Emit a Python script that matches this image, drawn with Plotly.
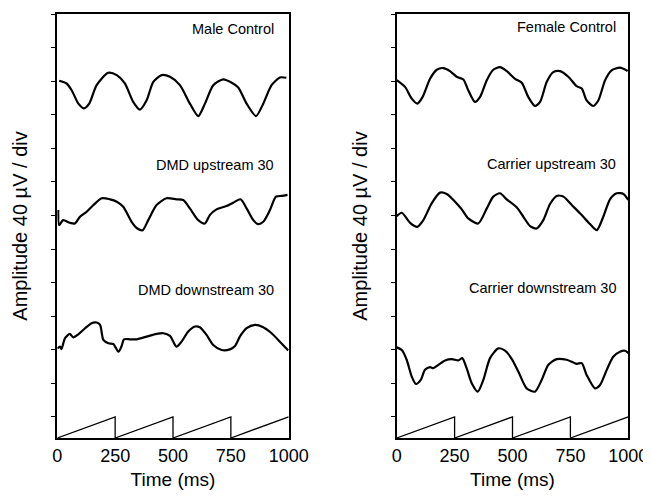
import plotly.graph_objects as go

# Zeit (ms) und Amplitude (in Skalenteilen, 1 div = 40 µV)
male_t = [8, 40, 62, 91, 115, 138, 170, 220, 257, 292, 328, 357, 386, 415, 451,
          487, 530, 573, 609, 638, 674, 717, 754, 782, 818, 859, 890, 926, 962, 990]
male_y = [10.01, 9.93, 9.73, 9.33, 9.19, 9.33, 9.88, 10.25, 10.18, 9.93, 9.38, 9.15, 9.43, 9.98, 10.18,
          10.13, 9.88, 9.33, 8.96, 9.33, 9.88, 10.05, 9.95, 9.81, 9.33, 8.96, 9.33, 9.88, 10.11, 10.10]

dmd_up_t = [4, 8, 25, 54, 76, 98, 127, 156, 192, 228, 257, 285, 321, 346, 369, 393, 429, 472,
            515, 544, 573, 609, 638, 659, 688, 731, 760, 792, 818, 847, 868, 890, 919, 945, 970, 995]
dmd_up_y = [6.16, 5.71, 5.86, 5.78, 5.76, 5.96, 6.11, 6.31, 6.51, 6.48, 6.41, 6.26, 5.81, 5.61, 5.56, 5.86, 6.31, 6.51,
            6.48, 6.46, 6.21, 5.86, 5.76, 6.01, 6.18, 6.28, 6.38, 6.48, 6.21, 5.86, 5.74, 5.81, 6.16, 6.56, 6.58, 6.61]

dmd_down_t = [0, 12, 18, 33, 54, 69, 91, 120, 148, 170, 185, 199, 221, 242, 264, 278, 288, 314, 343, 386,
              429, 458, 487, 515, 537, 566, 595, 616, 645, 674, 710, 746, 768, 789, 818, 854, 890, 926, 962, 998]
dmd_down_y = [2.04, 2.09, 2.02, 2.34, 2.47, 2.37, 2.46, 2.64, 2.79, 2.81, 2.74, 2.29, 2.19, 2.17, 1.94, 2.11, 2.31, 2.31, 2.31, 2.39,
              2.47, 2.49, 2.41, 2.09, 2.24, 2.54, 2.69, 2.67, 2.44, 2.14, 1.99, 2.01, 2.11, 2.39, 2.64, 2.74, 2.67, 2.49, 2.24, 1.98]

female_t = [0, 36, 65, 89, 112, 144, 173, 201, 230, 259, 288, 309, 338, 360, 389, 417, 446, 475,
            511, 540, 568, 597, 619, 648, 676, 705, 741, 777, 799, 820, 849, 871, 900, 928, 964, 997]
female_y = [10.03, 9.83, 9.48, 9.33, 9.53, 10.07, 10.34, 10.39, 10.30, 10.13, 10.05, 9.73, 9.38, 9.53, 10.03, 10.34, 10.42, 10.30,
            10.07, 9.95, 9.53, 9.26, 9.38, 9.98, 10.27, 10.30, 10.13, 9.85, 9.78, 9.43, 9.26, 9.43, 10.03, 10.32, 10.40, 10.30]

car_up_t = [0, 22, 58, 89, 115, 151, 187, 216, 252, 281, 309, 352, 389, 417, 446, 475, 518,
            547, 576, 604, 633, 662, 691, 720, 756, 799, 835, 864, 892, 921, 950, 979, 1000]
car_up_y = [5.98, 6.08, 5.78, 5.66, 5.86, 6.36, 6.68, 6.64, 6.41, 6.18, 5.91, 5.76, 6.21, 6.56, 6.66, 6.48, 6.24,
            5.96, 5.68, 5.61, 5.86, 6.34, 6.58, 6.56, 6.31, 6.01, 5.74, 5.56, 5.96, 6.48, 6.66, 6.64, 6.46]

car_down_t = [0, 22, 43, 65, 83, 104, 122, 144, 158, 180, 209, 238, 266, 283, 302, 324, 350, 374, 403, 439,
              468, 497, 525, 561, 597, 626, 655, 691, 734, 777, 799, 820, 856, 878, 907, 935, 964, 986, 1000]
car_down_y = [2.07, 1.99, 1.70, 1.20, 0.98, 1.10, 1.40, 1.48, 1.45, 1.55, 1.68, 1.72, 1.68, 1.75, 1.45, 1.00, 0.75, 1.10, 1.75, 2.04,
              1.97, 1.72, 1.35, 0.85, 0.75, 1.10, 1.55, 1.72, 1.70, 1.58, 1.60, 1.25, 0.85, 0.95, 1.40, 1.79, 1.94, 1.97, 1.90]

# Reiz-Sägezahn unten
saw_t = [0, 250, 250, 500, 500, 750, 750, 1000]
saw_y = [-0.63, 0, -0.63, 0, -0.63, 0, -0.63, 0]

x_ticks = [0, 250, 500, 750, 1000]
left_labels = ["Male Control", "DMD upstream 30", "DMD downstream 30"]
right_labels = ["Female Control", "Carrier upstream 30", "Carrier downstream 30"]

FONT = "Liberation Sans, Arial, Helvetica, sans-serif"

# Seite hat 8px Body-Rand -> Figur entsprechend kleiner
W, H, OFF = 643, 488, 8

fig = go.Figure()

def add_trace(t, y, ax, width=2.2, shape="spline"):
    fig.add_trace(go.Scatter(
        x=t, y=y, mode="lines",
        line=dict(color="black", width=width, shape=shape, smoothing=0.7),
        xaxis="x" + ax, yaxis="y" + ax, showlegend=False, hoverinfo="skip",
    ))

add_trace(male_t, male_y, "")
add_trace(dmd_up_t, dmd_up_y, "")
add_trace(dmd_down_t, dmd_down_y, "")
add_trace(saw_t, saw_y, "", width=1.3, shape="linear")
add_trace(female_t, female_y, "2")
add_trace(car_up_t, car_up_y, "2")
add_trace(car_down_t, car_down_y, "2")
add_trace(saw_t, saw_y, "2", width=1.3, shape="linear")

xax = dict(
    range=[0, 1000], tickvals=x_ticks, ticks="", showgrid=False, zeroline=False,
    showline=True, linecolor="black", linewidth=2, mirror=True, automargin=False,
    tickfont=dict(size=18, color="black"),
    title=dict(text="Time (ms)", font=dict(size=19, color="black"), standoff=8),
)
yax = dict(
    range=[-0.63, 12], tick0=0, dtick=1, ticks="outside", ticklen=4, tickwidth=1,
    tickcolor="black", showticklabels=False, showgrid=False, zeroline=False,
    showline=True, linecolor="black", linewidth=2, mirror=True, automargin=False,
    title=dict(text="Amplitude 40 µV / div", font=dict(size=20, color="black"), standoff=18),
)

def xdom(a, b):
    return [(a - OFF) / W, (b - OFF) / W]

ydom = [1 - (438 - OFF) / H, 1 - (14 - OFF) / H]
fig.update_layout(
    template="none",
    width=W, height=H,
    margin=dict(l=0, r=0, t=0, b=0),
    paper_bgcolor="white", plot_bgcolor="white",
    font=dict(family=FONT, color="black"),
    xaxis=dict(xax, domain=xdom(57.3, 288.7), anchor="y"),
    yaxis=dict(yax, domain=ydom, anchor="x"),
    xaxis2=dict(xax, domain=xdom(396.7, 628.3), anchor="y2"),
    yaxis2=dict(yax, domain=ydom, anchor="x2"),
)

label_y = [0.965, 0.643, 0.35]
for txt, yy in zip(left_labels, label_y):
    fig.add_annotation(text=txt, xref="x domain", yref="y domain", x=0.945, y=yy,
                       xanchor="right", yanchor="middle", showarrow=False,
                       font=dict(size=14.5, color="black"))
for txt, yy in zip(right_labels, label_y):
    fig.add_annotation(text=txt, xref="x2 domain", yref="y2 domain", x=0.955, y=yy + 0.004,
                       xanchor="right", yanchor="middle", showarrow=False,
                       font=dict(size=14.5, color="black"))

fig.write_html("out.html")
